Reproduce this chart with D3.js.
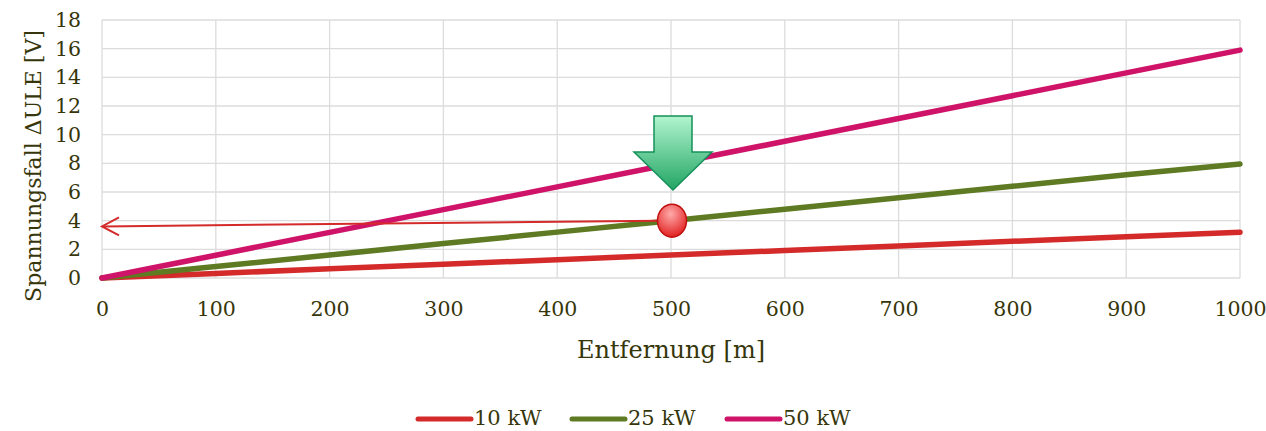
<!DOCTYPE html>
<html><head><meta charset="utf-8">
<script src="https://cdn.jsdelivr.net/npm/d3@7"></script>
<style>body{margin:0;background:#fff}svg{display:block}</style>
</head><body>
<script>
const distances = [0,100,200,300,400,500,600,700,800,900,1000];
const kw10 = [0,0.32,0.64,0.96,1.28,1.6,1.92,2.24,2.56,2.88,3.2];
const kw25 = [0,0.8,1.6,2.4,3.2,4.0,4.8,5.6,6.4,7.2,7.95];
const kw50 = [0,1.59,3.18,4.77,6.36,7.95,9.54,11.13,12.72,14.31,15.9];
const seriesNames = ["10 kW","25 kW","50 kW"];
const seriesColors = ["#d42a2a","#5e7a22","#cf1368"];
const xTicks = [0,100,200,300,400,500,600,700,800,900,1000];
const yTicks = [0,2,4,6,8,10,12,14,16,18];
const markerPoint = {x:500, y:4.0};
const arrowEndY = 3.6;

const W=1266,H=431;
const font="'DejaVu Serif','Liberation Serif',serif";
const txt="#36360a";
const svg=d3.select("body").append("svg").attr("width",W).attr("height",H);
const x=d3.scaleLinear().domain([0,1000]).range([102,1240]);
const y=d3.scaleLinear().domain([0,18]).range([278,20]);

const defs=svg.append("defs");
const gg=defs.append("linearGradient").attr("id","gArr").attr("x1",0).attr("y1",0).attr("x2",0).attr("y2",1);
gg.append("stop").attr("offset","0%").attr("stop-color","#b2f5cf");
gg.append("stop").attr("offset","100%").attr("stop-color","#22a564");
const rg=defs.append("radialGradient").attr("id","gCirc").attr("cx","45%").attr("cy","30%").attr("r","75%");
rg.append("stop").attr("offset","0%").attr("stop-color","#ffaaaa");
rg.append("stop").attr("offset","100%").attr("stop-color","#e01818");

// grid
svg.append("g").selectAll("line").data(yTicks).join("line")
 .attr("x1",x(0)).attr("x2",x(1000)).attr("y1",d=>y(d)).attr("y2",d=>y(d))
 .attr("stroke","#dcdcdc").attr("stroke-width",1.3);
svg.append("g").selectAll("line").data(xTicks).join("line")
 .attr("x1",d=>x(d)).attr("x2",d=>x(d)).attr("y1",y(0)).attr("y2",y(18))
 .attr("stroke","#dcdcdc").attr("stroke-width",1.3);

// axes
const ya=svg.append("g").attr("transform",`translate(${x(0)},0)`)
 .call(d3.axisLeft(y).tickValues(yTicks).tickFormat(d3.format("d")).tickSize(0).tickPadding(21));
const xa=svg.append("g").attr("transform",`translate(0,${y(0)})`)
 .call(d3.axisBottom(x).tickValues(xTicks).tickFormat(d3.format("d")).tickSize(0).tickPadding(23));
[ya,xa].forEach(a=>{a.select(".domain").remove();
 a.selectAll("text").attr("font-family",font).attr("font-size",20.5).attr("fill",txt);});

// series
const all=[kw10,kw25,kw50];
const line=d3.line().x((d,i)=>x(distances[i])).y(d=>y(d));
all.forEach((s,k)=>{
 svg.append("path").datum(s).attr("d",line).attr("fill","none")
  .attr("stroke",seriesColors[k]).attr("stroke-width",5.5).attr("stroke-linecap","round");
});

// red arrow line
const ax1=x(markerPoint.x)-12, ay1=y(markerPoint.y), ax2=x(0), ay2=y(arrowEndY);
svg.append("line").attr("x1",ax1).attr("y1",ay1).attr("x2",ax2+1).attr("y2",ay2)
 .attr("stroke","#d42a2a").attr("stroke-width",2);
svg.append("path").attr("d",`M${ax2+17},${ay2-9} L${ax2},${ay2} L${ax2+17},${ay2+9}`)
 .attr("fill","none").attr("stroke","#d42a2a").attr("stroke-width",2);

// circle marker
svg.append("ellipse").attr("cx",x(markerPoint.x)+1).attr("cy",y(markerPoint.y)).attr("rx",14.5).attr("ry",16.5)
 .attr("fill","url(#gCirc)").attr("stroke","#c01010").attr("stroke-width",1.5);

// green arrow
const cx=x(markerPoint.x)+2;
svg.append("path").attr("d",`M${cx-19},116 L${cx+19},116 L${cx+19},152 L${cx+39},152 L${cx},190 L${cx-39},152 L${cx-19},152 Z`)
 .attr("fill","url(#gArr)").attr("stroke","#15905a").attr("stroke-width",1.5);

// titles
svg.append("text").attr("x",x(500)).attr("y",358).attr("text-anchor","middle")
 .attr("font-family",font).attr("font-size",24).attr("fill",txt).text("Entfernung [m]");
svg.append("text").attr("transform","translate(41,166) rotate(-90)").attr("text-anchor","middle")
 .attr("font-family",font).attr("font-size",22).attr("fill",txt).text("Spannungsfall ΔULE [V]");

// legend
const legX=[418,572,727];
seriesNames.forEach((n,k)=>{
 svg.append("line").attr("x1",legX[k]).attr("x2",legX[k]+53).attr("y1",419).attr("y2",419)
  .attr("stroke",seriesColors[k]).attr("stroke-width",5).attr("stroke-linecap","round");
 svg.append("text").attr("x",legX[k]+56).attr("y",425).attr("font-family",font).attr("font-size",21)
  .attr("fill",txt).text(n);
});
</script>
</body></html>
